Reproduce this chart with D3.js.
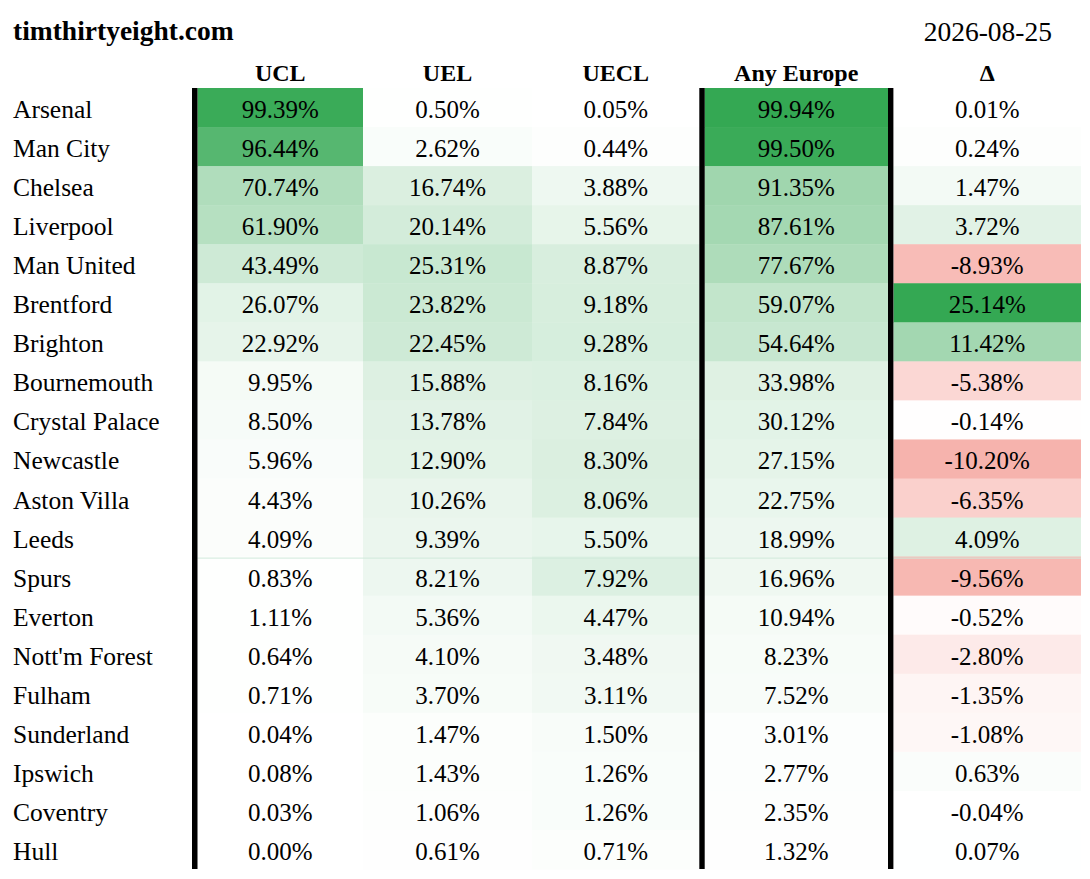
<!DOCTYPE html>
<html>
<head>
  <meta charset="utf-8">
  <title>European qualification odds</title>
  <script src="https://d3js.org/d3.v7.min.js"></script>
  <style>
    body { margin: 0; background: #fff; }
  </style>
</head>
<body>
  <svg width="1090" height="879"></svg>
  <script>
const teams = ["Arsenal", "Man City", "Chelsea", "Liverpool", "Man United", "Brentford", "Brighton",
  "Bournemouth", "Crystal Palace", "Newcastle", "Aston Villa", "Leeds", "Spurs", "Everton",
  "Nott'm Forest", "Fulham", "Sunderland", "Ipswich", "Coventry", "Hull"];
const ucl = [99.39, 96.44, 70.74, 61.90, 43.49, 26.07, 22.92, 9.95, 8.50, 5.96, 4.43, 4.09, 0.83, 1.11, 0.64, 0.71, 0.04, 0.08, 0.03, 0.00];
const uel = [0.50, 2.62, 16.74, 20.14, 25.31, 23.82, 22.45, 15.88, 13.78, 12.90, 10.26, 9.39, 8.21, 5.36, 4.10, 3.70, 1.47, 1.43, 1.06, 0.61];
const uecl = [0.05, 0.44, 3.88, 5.56, 8.87, 9.18, 9.28, 8.16, 7.84, 8.30, 8.06, 5.50, 7.92, 4.47, 3.48, 3.11, 1.50, 1.26, 1.26, 0.71];
const anyEurope = [99.94, 99.50, 91.35, 87.61, 77.67, 59.07, 54.64, 33.98, 30.12, 27.15, 22.75, 18.99, 16.96, 10.94, 8.23, 7.52, 3.01, 2.77, 2.35, 1.32];
const delta = [0.01, 0.24, 1.47, 3.72, -8.93, 25.14, 11.42, -5.38, -0.14, -10.20, -6.35, 4.09, -9.56, -0.52, -2.80, -1.35, -1.08, 0.63, -0.04, 0.07];
const headers = ["UCL", "UEL", "UECL", "Any Europe", "Δ"];
const site = "timthirtyeight.com";
const date = "2026-08-25";

const FONT = "'Liberation Serif', 'Times New Roman', 'DejaVu Serif', serif";

const svg = d3.select("svg")
  .attr("font-family", FONT)
  .style("font-family", FONT);
svg.append("rect").attr("width", 1090).attr("height", 879).attr("fill", "#fff");

// column geometry
const colEdges = [[197.5, 363], [363, 532], [532, 699.5], [704.5, 888], [893.5, 1081]];
const rowY = d3.scaleBand().domain(teams).range([88, 869]);

const green = d3.interpolateRgb("#ffffff", "#34a853");
const red = d3.interpolateRgb("#ffffff", "#ea4335");

// shading strength per column
const shade = [
  d3.scaleLinear().domain([0, 10, 26, 43.5, 62, 71, 96.4, 99.4]).range([0, .05, .14, .24, .36, .39, .83, .97]).clamp(true),
  d3.scaleLinear().domain([0, 25.31]).range([0, .27]).clamp(true),
  d3.scaleLinear().domain([0, 9.28]).range([0, .2]).clamp(true),
  d3.scaleLinear().domain([0, 34, 59, 78, 91.35, 99.5, 99.94]).range([0, .16, .30, .40, .47, .97, 1]).clamp(true)
];
const deltaScale = d3.scaleLinear().domain([-25.14, 0, 25.14]).range([-1, 0, 1]).clamp(true);

function cellColor(col, v) {
  if (col < 4) return green(shade[col](v));
  const t = deltaScale(v);
  return t >= 0 ? green(t) : red(-t);
}

const columns = [ucl, uel, uecl, anyEurope, delta];

// cells
columns.forEach((vals, c) => {
  const [x0, x1] = colEdges[c];
  const g = svg.append("g");
  g.selectAll("rect").data(vals).join("rect")
    .attr("x", x0)
    .attr("y", (d, i) => rowY(teams[i]))
    .attr("width", x1 - x0)
    .attr("height", rowY.bandwidth() + 0.5)
    .attr("fill", d => cellColor(c, d));
  g.selectAll("text").data(vals).join("text")
    .attr("x", (x0 + x1) / 2)
    .attr("y", (d, i) => rowY(teams[i]) + 30)
    .attr("text-anchor", "middle")
    .style("font-family", FONT)
    .style("font-size", "25px")
    .text(d => d.toFixed(2) + "%");
});

// faint seam between Leeds and Spurs
svg.append("line")
  .attr("x1", 197.5).attr("x2", 1081)
  .attr("y1", rowY("Spurs") + 1.5).attr("y2", rowY("Spurs") + 1.5)
  .attr("stroke", "#cfe9da").attr("stroke-width", 1);

// team names
svg.append("g").selectAll("text").data(teams).join("text")
  .attr("x", 13)
  .attr("y", d => rowY(d) + 30)
  .style("font-family", FONT)
  .style("font-size", "25.5px")
  .text(d => d);

// headers
svg.append("g").selectAll("text").data(headers).join("text")
  .attr("x", (d, i) => (colEdges[i][0] + colEdges[i][1]) / 2)
  .attr("y", 81)
  .attr("text-anchor", "middle")
  .style("font-family", FONT)
  .style("font-size", "24px")
  .style("font-weight", "bold")
  .text(d => d);

// thick black rules
[[192, 197.5], [699.3, 704.7], [888, 893.4]].forEach(([a, b]) => {
  svg.append("rect")
    .attr("x", a).attr("y", 88)
    .attr("width", b - a).attr("height", 869 - 88)
    .attr("fill", "#000");
});

svg.append("text").attr("x", 13).attr("y", 40)
  .style("font-family", FONT)
  .style("font-size", "27.5px").style("font-weight", "bold").text(site);
svg.append("text").attr("x", 1052).attr("y", 41)
  .attr("text-anchor", "end")
  .style("font-family", FONT)
  .style("font-size", "27.5px").text(date);
  </script>
</body>
</html>
